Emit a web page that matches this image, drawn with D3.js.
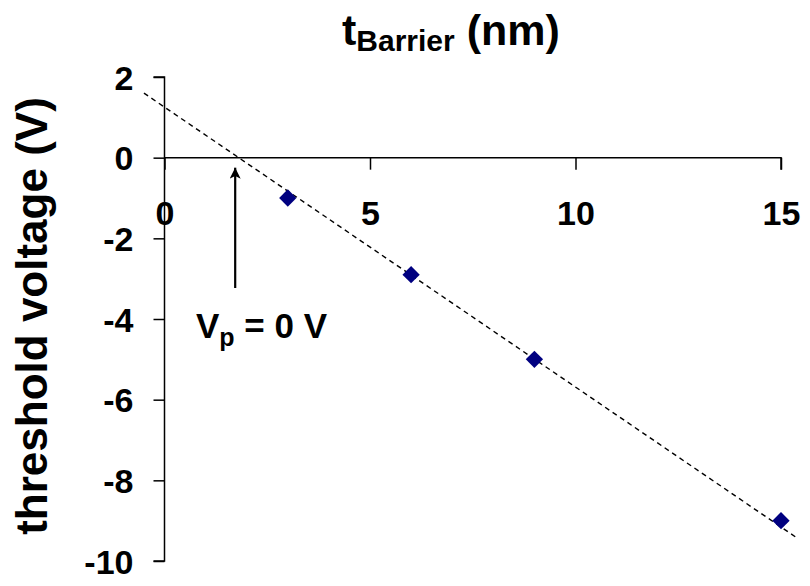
<!DOCTYPE html>
<html>
<head>
<meta charset="utf-8">
<script src="https://cdn.jsdelivr.net/npm/d3@7"></script>
<style>
  html, body { margin: 0; padding: 0; background: #fff; }
  svg { display: block; }
  text { font-family: "Liberation Sans", Arial, sans-serif; font-weight: bold; fill: #000; }
</style>
</head>
<body>
<svg id="chart" width="810" height="586"></svg>
<script>
// ---- data ----
const thickness = [3, 6, 9, 15];           // t_Barrier (nm)
const threshold = [-1, -2.9, -5, -9];      // threshold voltage (V)
const trendX = [-0.5, 15.35];              // dashed trend line endpoints (nm)
const trendY = [1.6, -9.4];                // dashed trend line endpoints (V)
const xTicks = [0, 5, 10, 15];
const yTicks = [2, 0, -2, -4, -6, -8, -10];
const pinchOff = 1.72;                      // V_p = 0 V crossing (nm)

const svg = d3.select("#chart");
const x = d3.scaleLinear().domain([0, 15]).range([164.5, 781]);
const y = d3.scaleLinear().domain([-10, 2]).range([561, 77]);

// y axis (left ticks)
const yAxis = d3.axisLeft(y).tickValues(yTicks).tickSize(11).tickFormat(d3.format("d"));
const gy = svg.append("g").attr("transform", `translate(${x(0)},0)`).call(yAxis);
gy.select(".domain").attr("d", `M-11,${y(2)}H0V${y(-10)}H-11`).attr("stroke", "#000").attr("stroke-width", 1.5);
gy.selectAll(".tick line").attr("stroke", "#000").attr("stroke-width", 1.5);
gy.selectAll(".tick text").attr("x", -31).attr("dy", "0.36em")
  .style("font-size", "34px").style("font-family", "'Liberation Sans', Arial, sans-serif").style("font-weight", "bold")
  .text(d => d < 0 ? "-" + Math.abs(d) : d);

// x axis at y = 0 (ticks pointing down)
const xAxis = d3.axisBottom(x).tickValues(xTicks).tickSize(12).tickFormat(d3.format("d"));
const gx = svg.append("g").attr("transform", `translate(0,${y(0)})`).call(xAxis);
gx.select(".domain").attr("d", `M${x(0)},0H${x(15)}V12`).attr("stroke", "#000").attr("stroke-width", 1.5).attr("fill", "none");
gx.selectAll(".tick line").attr("stroke", "#000").attr("stroke-width", 1.5);
gx.selectAll(".tick text").attr("y", 67).attr("dy", 0)
  .style("font-size", "34px").style("font-family", "'Liberation Sans', Arial, sans-serif").style("font-weight", "bold");

// dashed trend line
const line = d3.line().x(d => x(d[0])).y(d => y(d[1]));
svg.append("path")
  .datum(trendX.map((v, i) => [v, trendY[i]]))
  .attr("d", line)
  .attr("fill", "none").attr("stroke", "#000").attr("stroke-width", 1.4)
  .attr("stroke-dasharray", "5,4");

// data points (diamonds)
svg.selectAll("path.pt")
  .data(thickness.map((v, i) => [v, threshold[i]]))
  .join("path").attr("class", "pt")
  .attr("transform", d => `translate(${x(d[0])},${y(d[1])}) rotate(45)`)
  .attr("d", d3.symbol().type(d3.symbolSquare).size(150))
  .attr("fill", "#000080");

// arrow for V_p annotation
svg.append("defs").append("marker")
  .attr("id", "ah").attr("viewBox", "0 0 10 10").attr("refX", 10).attr("refY", 5)
  .attr("markerWidth", 11).attr("markerHeight", 11).attr("markerUnits", "userSpaceOnUse")
  .attr("orient", "auto")
  .append("path").attr("d", "M0,0L10,5L0,10L2.5,5Z").attr("fill", "#000");
svg.append("line")
  .attr("x1", x(pinchOff)).attr("x2", x(pinchOff))
  .attr("y1", 288).attr("y2", y(0) + 10)
  .attr("stroke", "#000").attr("stroke-width", 2.2)
  .attr("marker-end", "url(#ah)");

// V_p label
const vp = svg.append("text").attr("x", 196).attr("y", 338).style("font-size", "35px");
vp.append("tspan").text("V");
vp.append("tspan").attr("dy", 8).style("font-size", "25px").text("p");
vp.append("tspan").attr("dy", -8).text(" = 0 V");

// title
const title = svg.append("text").attr("x", 342).attr("y", 45).style("font-size", "43px");
title.append("tspan").text("t");
title.append("tspan").attr("dy", 6).style("font-size", "30px").text("Barrier");
title.append("tspan").attr("dy", -6).text(" (nm)");

// y label
svg.append("text")
  .attr("transform", `translate(47,316) rotate(-90)`)
  .attr("text-anchor", "middle")
  .style("font-size", "44px")
  .text("threshold voltage (V)");
</script>
</body>
</html>
